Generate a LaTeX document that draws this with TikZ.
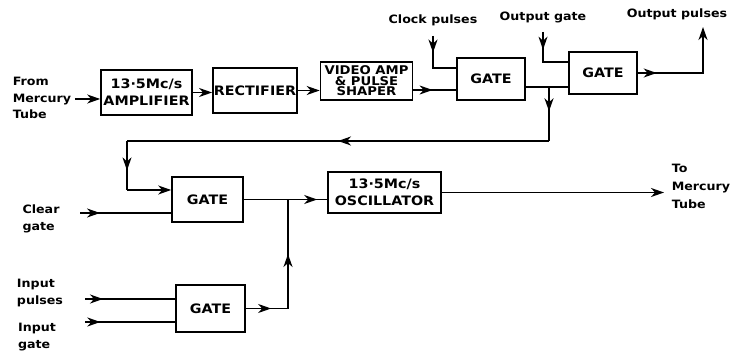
\documentclass[tikz,border=0pt]{standalone}
\usepackage{fontspec}
\setmainfont[FakeStretch=1.1]{DejaVu Sans}
\usetikzlibrary{arrows.meta,decorations.markings}

\begin{document}
\begin{tikzpicture}[x=1pt,y=-1pt,>={Stealth[length=13pt,width=9pt,inset=4pt]},line width=1.6pt,
  blk/.style={draw,align=center,inner sep=1pt,font=\bfseries\fontsize{13}{17}\selectfont},
  lbl/.style={align=left,inner sep=0pt,font=\bfseries\fontsize{11.5}{16.5}\selectfont},
  mid/.style={postaction={decorate},decoration={markings,mark=at position #1 with {\arrow{>}}}},
  mid/.default=.5]
 \useasboundingbox (0,0) rectangle (733,355);
 % top row
 \node[lbl] (src) at (42,98) {From\\Mercury\\Tube};
 \node[blk,minimum width=91,minimum height=45] (amp) at (146.5,92.5) {13·5Mc/s\\AMPLIFIER};
 \node[blk,minimum width=84,minimum height=45] (rect) at (255,90.5) {RECTIFIER};
 \node[blk,minimum width=92,minimum height=38,font=\bfseries\fontsize{12}{10.5}\selectfont] (vid) at (366.5,81) {VIDEO AMP\\\& PULSE\\SHAPER};
 \node[blk,minimum width=68,minimum height=42] (gA) at (491,79) {GATE};
 \node[blk,minimum width=68,minimum height=42] (gB) at (603,73) {GATE};
 \node[lbl] (clk) at (433,20) {Clock pulses};
 \node[lbl] (ogt) at (543,17) {Output gate};
 \node[lbl] (opl) at (677,14) {Output pulses};
 % bottom part
 \node[blk,minimum width=71,minimum height=45] (gC) at (207.5,199.5) {GATE};
 \node[blk,minimum width=113,minimum height=41] (osc) at (384.5,192.5) {13·5Mc/s\\OSCILLATOR};
 \node[blk,minimum width=69,minimum height=47] (gD) at (210.5,308.5) {GATE};
 \node[lbl] (clr) at (41,219) {Clear\\gate};
 \node[lbl] (ipl) at (40,293) {Input\\pulses};
 \node[lbl] (igt) at (37,337) {Input\\gate};
 \node[lbl,font=\bfseries\fontsize{11.5}{18}\selectfont] (tmt) at (701,186) {To\\Mercury\\Tube};
 % free ends and corners
 \coordinate (j1) at (549,87);
 \coordinate (j2) at (549,141);
 \coordinate (j3) at (127,141);
 \coordinate (j4) at (127,190);
 \coordinate (j5) at (288,199.5);
 \coordinate (op) at (703,27);
 \coordinate (ck) at (433,36);
 \coordinate (og) at (543,32);
 \coordinate (cg) at (80,213);
 \coordinate (ip) at (85,299);
 \coordinate (ig) at (85,322);
 % connectors
 \draw[->] ([xshift=3pt,yshift=-1pt]src.east) -- ([yshift=-1pt]src.east -| amp.west);
 \draw[->] (amp.east) -- (amp.east -| rect.west);
 \draw[->] (rect.east) -- (rect.east -| vid.west);
 \draw[mid=.45] ([yshift=-9pt]vid.east) -- ([yshift=-9pt]vid.east -| gA.west);
 \draw[mid=.3] (ck) |- ([yshift=11pt]gA.west);
 \draw[mid=.32] (og) |- ([yshift=11pt]gB.west);
 \draw ([yshift=-8pt]gA.east) -- (j1) -- (j1 -| gB.west);
 \draw[->,mid=.17] (gB.east) -| (op);
 \draw[mid=.45] (j1) -- (j2);
 \draw[mid=.5] (j2) -- (j3);
 \draw[mid=.6] (j3) -- (j4);
 \draw[->] (j4) -- (j4 -| gC.west);
 \draw[mid=.22] (cg) -- (cg -| gC.west);
 \draw[mid=.88] (gC.east) -- (gC.east -| osc.west);
 \draw[mid=.6] (gD.east) -- (gD.east -| j5);
 \draw[mid=.5] (gD.east -| j5) -- (j5);
 \draw[mid=.2] (ip) -- (ip -| gD.west);
 \draw[mid=.17] (ig) -- (ig -| gD.west);
 \draw[->] (osc.east) -- ([xshift=-7pt]osc.east -| tmt.west);
\end{tikzpicture}
\end{document}
